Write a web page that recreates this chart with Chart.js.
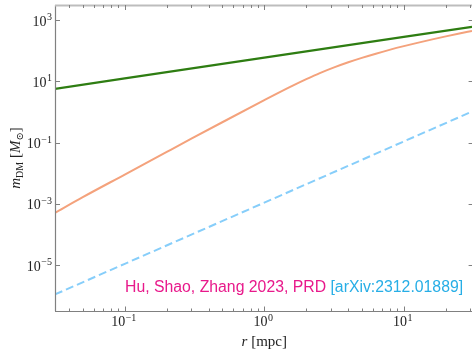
<!DOCTYPE html>
<html>
<head>
<meta charset="utf-8">
<style>
html,body{margin:0;padding:0;background:#fff;}
#wrap{width:472px;height:350px;position:relative;}
</style>
<script src="https://cdn.jsdelivr.net/npm/chart.js@4.4.1/dist/chart.umd.min.js"></script>
</head>
<body>
<div id="wrap"><canvas id="c" width="472" height="350"></canvas></div>
<script>
// Radii (mpc) for the two straight power-law lines
const rStraight = [0.0316, 0.1, 1, 10, 30.8];
const greenVals = [5.7, 12.7, 60, 286, 614];
const blueVals  = [1.1e-6, 1.1e-5, 1.1e-3, 0.11, 1.04];
// Radii (mpc) and values for the curved (orange) line
const rOrange = [0.0316, 0.05, 0.1, 0.2, 0.3, 0.5, 1, 1.25, 1.6, 2, 2.5, 3.2, 4, 5, 6.3, 8, 10, 12.5, 16, 20, 25, 30.8];
const orangeVals = [5.1e-4, 1.66e-3, 9.1e-3, 0.050, 0.135, 0.466, 2.45, 4.15, 7.31, 11.9, 18.8, 29.4, 42.5, 59.2, 81.1, 110, 143, 183, 238, 298, 370, 451];
// Axis ranges and tick labels (exponents)
const xRange = [0.03162, 30.8];
const yRange = [3.162e-7, 3162];
const xTickExps = [-1, 0, 1];
const yTickExps = [3, 1, -1, -3, -5];
const annotationMain = "Hu, Shao, Zhang 2023, PRD ";
const annotationRef = "[arXiv:2312.01889]";

function pts(rs, vals){ return rs.map((r,i)=>({x:r, y:vals[i]})); }

const SERIF = '"Liberation Serif", "DejaVu Serif", serif';
const SANS = '"Liberation Sans", Arial, sans-serif';

function drawPow(ctx, exp, x, y, align){
  const base = "10";
  const sup = (exp < 0 ? "\u2212" : "") + Math.abs(exp);
  ctx.font = "14px " + SERIF;
  const wb = ctx.measureText(base).width;
  ctx.font = "10px " + SERIF;
  const ws = ctx.measureText(sup).width;
  const total = wb + ws + 0.5;
  let x0 = x;
  if (align === "right") x0 = x - total;
  else if (align === "center") x0 = x - total/2;
  ctx.textAlign = "left";
  ctx.textBaseline = "alphabetic";
  ctx.fillStyle = "#222";
  ctx.font = "14px " + SERIF;
  ctx.fillText(base, x0, y);
  ctx.font = "10px " + SERIF;
  ctx.fillText(sup, x0 + wb + 0.5, y - 5.5);
}

const framePlugin = {
  id: "frame",
  afterDraw(chart){
    const ctx = chart.ctx;
    const a = chart.chartArea;
    const xs = chart.scales.x, ys = chart.scales.y;
    ctx.save();
    // spines
    ctx.lineWidth = 1.2;
    ctx.strokeStyle = "#808080";
    ctx.beginPath();
    ctx.moveTo(a.left+0.5, a.top); ctx.lineTo(a.left+0.5, a.bottom);
    ctx.moveTo(a.left, a.bottom+0.5); ctx.lineTo(a.right, a.bottom+0.5);
    ctx.stroke();
    ctx.strokeStyle = "#bdbdbd";
    ctx.lineWidth = 2;
    ctx.beginPath();
    ctx.moveTo(a.left, a.top+0.5); ctx.lineTo(a.right, a.top+0.5);
    ctx.stroke();
    // x ticks
    ctx.strokeStyle = "#808080";
    ctx.lineWidth = 1;
    for (let d = -2; d <= 1; d++){
      for (let m = 1; m <= 9; m++){
        const v = m * Math.pow(10, d);
        if (v < xRange[0] || v > xRange[1]) continue;
        const px = Math.round(xs.getPixelForValue(v)) + 0.5;
        const len = (m === 1) ? 4.5 : 2.5;
        ctx.beginPath();
        ctx.moveTo(px, a.bottom); ctx.lineTo(px, a.bottom - len);
        ctx.moveTo(px, a.top); ctx.lineTo(px, a.top + len + 0.5);
        ctx.stroke();
      }
    }
    // y ticks (right spine sits just beyond the canvas edge)
    const rightSpine = xs.getPixelForValue(Math.pow(10, 1.5));
    yTickExps.forEach(e=>{
      const py = Math.round(ys.getPixelForValue(Math.pow(10,e))) + 0.5;
      ctx.beginPath();
      ctx.moveTo(a.left, py); ctx.lineTo(a.left + 5, py);
      ctx.moveTo(rightSpine, py); ctx.lineTo(rightSpine - 5, py);
      ctx.stroke();
    });
    // tick labels
    xTickExps.forEach(e=>{
      const px = xs.getPixelForValue(Math.pow(10,e));
      drawPow(ctx, e, px - 1, a.bottom + 15, "center");
    });
    yTickExps.forEach(e=>{
      const py = ys.getPixelForValue(Math.pow(10,e));
      drawPow(ctx, e, a.left - 3, py + 5.5, "right");
    });
    // x title
    ctx.fillStyle = "#222";
    ctx.textBaseline = "alphabetic";
    ctx.font = "italic 15px " + SERIF;
    const wr = ctx.measureText("r").width;
    ctx.font = "15px " + SERIF;
    const wrest = ctx.measureText(" [mpc]").width;
    const cx = (a.left + rightSpine)/2;
    let tx = cx - (wr + wrest)/2;
    ctx.textAlign = "left";
    ctx.font = "italic 15px " + SERIF;
    ctx.fillText("r", tx, 346);
    ctx.font = "15px " + SERIF;
    ctx.fillText(" [mpc]", tx + wr, 346);
    // y title (rotated)
    const parts = [
      {t:"m", f:"italic 15px " + SERIF, dy:0},
      {t:"DM", f:"10px " + SERIF, dy:3},
      {t:" [", f:"15px " + SERIF, dy:0},
      {t:"M", f:"italic 15px " + SERIF, dy:0},
      {t:"\u2299", f:"10px " + SERIF, dy:3},
      {t:"]", f:"15px " + SERIF, dy:0}
    ];
    let tw = 0;
    parts.forEach(p=>{ ctx.font = p.f; p.w = ctx.measureText(p.t).width; tw += p.w; });
    ctx.translate(20, (a.top + a.bottom)/2);
    ctx.rotate(-Math.PI/2);
    let ox = -tw/2;
    parts.forEach(p=>{ ctx.font = p.f; ctx.fillText(p.t, ox, p.dy); ox += p.w; });
    ctx.restore();
    // annotation
    ctx.save();
    ctx.font = "15.8px " + SANS;
    ctx.textAlign = "left";
    ctx.textBaseline = "alphabetic";
    const w1 = ctx.measureText(annotationMain).width;
    const startX = 125;
    ctx.fillStyle = "#e8198b";
    ctx.fillText(annotationMain, startX, 291.5);
    ctx.fillStyle = "#27aee6";
    ctx.fillText(annotationRef, startX + w1, 291.5);
    ctx.restore();
  }
};

new Chart(document.getElementById("c"), {
  type: "line",
  data: {
    datasets: [
      {data: pts(rStraight, blueVals), borderColor: "#87cefa", borderWidth: 2, borderDash: [8,4], pointRadius: 0, fill: false, tension: 0},
      {data: pts(rOrange, orangeVals), borderColor: "#f4a27c", borderWidth: 2, pointRadius: 0, fill: false, cubicInterpolationMode: "monotone"},
      {data: pts(rStraight, greenVals), borderColor: "#2e7d12", borderWidth: 2.2, pointRadius: 0, fill: false, tension: 0}
    ]
  },
  options: {
    responsive: false,
    animation: false,
    devicePixelRatio: 1,
    layout: {padding: {left: 55, right: 0, top: 5, bottom: 39}},
    plugins: {legend: {display: false}, tooltip: {enabled: false}},
    scales: {
      x: {type: "logarithmic", min: xRange[0], max: xRange[1], display: false},
      y: {type: "logarithmic", min: yRange[0], max: yRange[1], display: false}
    }
  },
  plugins: [framePlugin]
});
</script>
</body>
</html>
